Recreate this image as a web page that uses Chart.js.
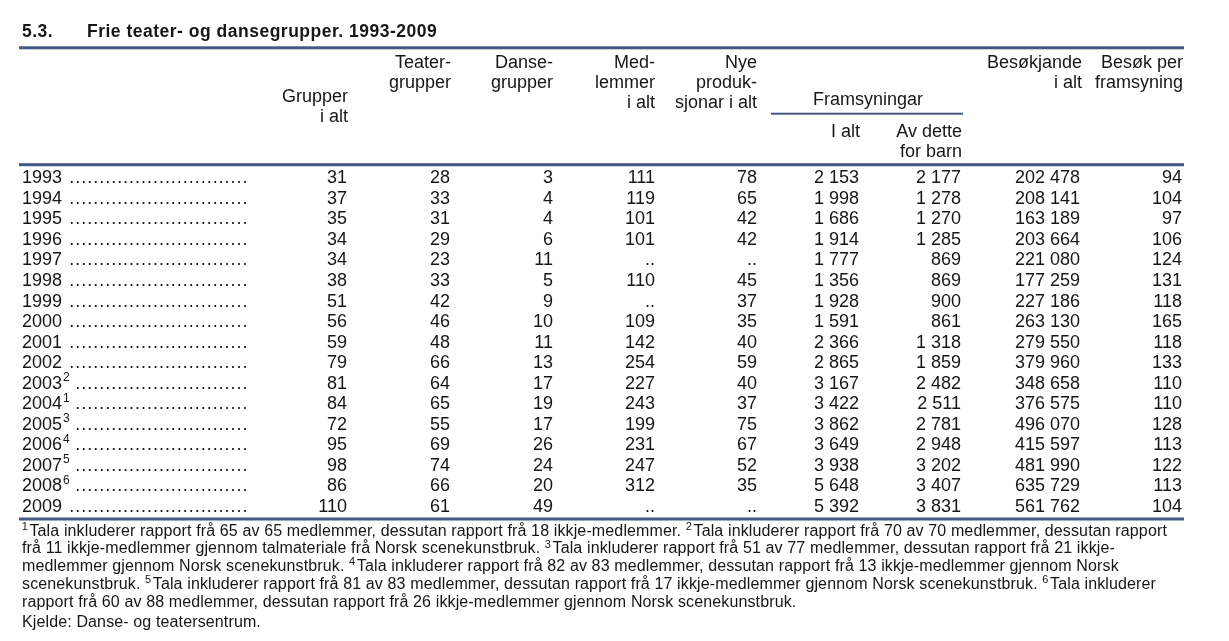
<!DOCTYPE html>
<html>
<head>
    <title>Frie teater- og dansegrupper. 1993-2009</title>
    <script src="https://cdn.jsdelivr.net/npm/chart.js"></script>
    <style>
        body { margin: 0; background: #fff; }
        #wrap { width: 1229px; height: 641px; }
    </style>
</head>
<body>

    <div id="wrap">
        <canvas id="tableChart" width="1229" height="641"></canvas>
    </div>

    <script>
        // Table data (null = "..", figure not available)
        var years = [1993, 1994, 1995, 1996, 1997, 1998, 1999, 2000, 2001, 2002, 2003, 2004, 2005, 2006, 2007, 2008, 2009];
        var yearNotes = [null, null, null, null, null, null, null, null, null, null, 2, 1, 3, 4, 5, 6, null];

        var grupperIAlt = [31, 37, 35, 34, 34, 38, 51, 56, 59, 79, 81, 84, 72, 95, 98, 86, 110];
        var teatergrupper = [28, 33, 31, 29, 23, 33, 42, 46, 48, 66, 64, 65, 55, 69, 74, 66, 61];
        var dansegrupper = [3, 4, 4, 6, 11, 5, 9, 10, 11, 13, 17, 19, 17, 26, 24, 20, 49];
        var medlemmer = [111, 119, 101, 101, null, 110, null, 109, 142, 254, 227, 243, 199, 231, 247, 312, null];
        var nyeProduksjonar = [78, 65, 42, 42, null, 45, 37, 35, 40, 59, 40, 37, 75, 67, 52, 35, null];
        var framsyningarIAlt = [2153, 1998, 1686, 1914, 1777, 1356, 1928, 1591, 2366, 2865, 3167, 3422, 3862, 3649, 3938, 5648, 5392];
        var framsyningarBarn = [2177, 1278, 1270, 1285, 869, 869, 900, 861, 1318, 1859, 2482, 2511, 2781, 2948, 3202, 3407, 3831];
        var besokjande = [202478, 208141, 163189, 203664, 221080, 177259, 227186, 263130, 279550, 379960, 348658, 376575, 496070, 415597, 481990, 635729, 561762];
        var besokPerFramsyning = [94, 104, 97, 106, 124, 131, 118, 165, 118, 133, 110, 110, 128, 113, 122, 113, 104];

        var columns = [grupperIAlt, teatergrupper, dansegrupper, medlemmer, nyeProduksjonar,
                       framsyningarIAlt, framsyningarBarn, besokjande, besokPerFramsyning];

        // Header texts, one entry per column
        var columnHeads = [
            ["Grupper", "i alt"],
            ["Teater-", "grupper"],
            ["Danse-", "grupper"],
            ["Med-", "lemmer", "i alt"],
            ["Nye", "produk-", "sjonar i alt"],
            ["I alt"],
            ["Av dette", "for barn"],
            ["Besøkjande", "i alt"],
            ["Besøk per", "framsyning"]
        ];
        var groupHead = "Framsyningar";

        var title = ["5.3.", "Frie teater- og dansegrupper. 1993-2009"];
        var footnotes = [
            "^1Tala inkluderer rapport frå 65 av 65 medlemmer, dessutan rapport frå 18 ikkje-medlemmer. ^2Tala inkluderer rapport frå 70 av 70 medlemmer, dessutan rapport",
            "frå 11 ikkje-medlemmer gjennom talmateriale frå Norsk scenekunstbruk. ^3Tala inkluderer rapport frå 51 av 77 medlemmer, dessutan rapport frå 21 ikkje-",
            "medlemmer gjennom Norsk scenekunstbruk. ^4Tala inkluderer rapport frå 82 av 83 medlemmer, dessutan rapport frå 13 ikkje-medlemmer gjennom Norsk",
            "scenekunstbruk. ^5Tala inkluderer rapport frå 81 av 83 medlemmer, dessutan rapport frå 17 ikkje-medlemmer gjennom Norsk scenekunstbruk. ^6Tala inkluderer",
            "rapport frå 60 av 88 medlemmer, dessutan rapport frå 26 ikkje-medlemmer gjennom Norsk scenekunstbruk."
        ];
        var source = "Kjelde: Danse- og teatersentrum.";

        // Layout (pixels on the x scale, which runs 0..1229)
        var FONT = '"Liberation Sans", Arial, sans-serif';
        var INK = "#161616";
        var RULE = "#425980";
        var colRight = [347, 450, 553, 655, 757, 859, 961, 1080, 1182];
        var headRight = [348, 451, 553, 655, 757, 860, 962, 1082, 1183];
        var headFirstBase = [101.7, 68.3, 68.3, 68.3, 68.3, 136.7, 136.7, 68.3, 68.3];

        function fmt(v) {
            if (v === null) return "..";
            return String(v).replace(/\B(?=(\d{3})+(?!\d))/g, " ");
        }

        // Text with ^n superscripts
        function drawRich(ctx, str, x, y, size) {
            var parts = str.split(/(\^\d)/);
            var cx = x;
            parts.forEach(function (p) {
                if (!p) return;
                if (p.charAt(0) === "^") {
                    ctx.font = Math.round(size * 0.68) + "px " + FONT;
                    ctx.fillText(p.slice(1), cx, y - size * 0.36);
                    cx += ctx.measureText(p.slice(1)).width + 1.5;
                } else {
                    ctx.font = size + "px " + FONT;
                    ctx.fillText(p, cx, y);
                    cx += ctx.measureText(p).width;
                }
            });
            return cx;
        }

        function rule(ctx, x1, x2, y, w) {
            ctx.fillStyle = RULE;
            ctx.fillRect(x1, y - w / 2, x2 - x1, w);
        }

        var tablePlugin = {
            id: "tableText",
            afterDatasetsDraw: function (chart) {
                var ctx = chart.ctx;
                var yScale = chart.scales.y;
                ctx.save();
                ctx.textBaseline = "alphabetic";

                // Title
                ctx.fillStyle = INK;
                ctx.textAlign = "left";
                ctx.font = "bold 17.5px " + FONT;
                ctx.letterSpacing = "0.5px";
                ctx.fillText(title[0], 22, 37);
                ctx.fillText(title[1], 87, 37);
                ctx.letterSpacing = "0px";

                // Rules
                rule(ctx, 19, 1184, 47.8, 3);
                rule(ctx, 19, 1184, 164.7, 3);
                rule(ctx, 19, 1184, 519, 3);
                rule(ctx, 771, 963, 113.7, 2);

                // Column heads
                ctx.fillStyle = INK;
                ctx.font = "18px " + FONT;
                ctx.textAlign = "right";
                columnHeads.forEach(function (lines, c) {
                    lines.forEach(function (t, k) {
                        ctx.fillText(t, headRight[c], headFirstBase[c] + k * 20);
                    });
                });
                ctx.textAlign = "center";
                ctx.fillText(groupHead, 868, 105);

                // Year labels with leader dots
                years.forEach(function (yr, i) {
                    var y = yScale.getPixelForValue(i) + 6.5;
                    ctx.textAlign = "left";
                    ctx.font = "18px " + FONT;
                    ctx.fillText(String(yr), 22, y);
                    var end = 22 + ctx.measureText(String(yr)).width;
                    if (yearNotes[i] !== null) {
                        ctx.font = "12px " + FONT;
                        ctx.fillText(String(yearNotes[i]), end + 1, y - 7.5);
                        end += ctx.measureText(String(yearNotes[i])).width + 1;
                    }
                    ctx.font = "18px " + FONT;
                    ctx.textAlign = "center";
                    for (var dx = 245; dx > end + 7; dx -= 5.97) {
                        ctx.fillText(".", dx, y);
                    }
                });

                // Cells, placed at each point of the datasets
                ctx.font = "18px " + FONT;
                ctx.textAlign = "right";
                chart.data.datasets.forEach(function (ds, c) {
                    var meta = chart.getDatasetMeta(c);
                    meta.data.forEach(function (pt, i) {
                        ctx.fillText(fmt(ds.values[i]), pt.x, pt.y + 6.5);
                    });
                });

                // Footnotes
                ctx.textAlign = "left";
                ctx.letterSpacing = "0.13px";
                footnotes.forEach(function (line, k) {
                    var x = line.charAt(0) === "^" ? 21.7 : 22;
                    drawRich(ctx, line, x, 535.7 + k * 17.7, 16);
                });
                ctx.font = "16px " + FONT;
                ctx.fillText(source, 22, 627);
                ctx.letterSpacing = "0px";

                ctx.restore();
            }
        };

        var datasets = columns.map(function (vals, c) {
            return {
                values: vals,
                data: vals.map(function (v, i) { return { x: colRight[c], y: i }; }),
                pointRadius: 0,
                pointHoverRadius: 0,
                showLine: false
            };
        });

        var chart = new Chart(document.getElementById("tableChart"), {
            type: "scatter",
            data: { datasets: datasets },
            options: {
                responsive: false,
                animation: false,
                devicePixelRatio: 1,
                events: [],
                layout: { padding: { left: 0, right: 0, top: 176.7, bottom: 135.5 } },
                plugins: { legend: { display: false }, tooltip: { enabled: false } },
                scales: {
                    x: { type: "linear", min: 0, max: 1229, display: false },
                    y: { type: "linear", min: 0, max: years.length - 1, reverse: true, display: false }
                }
            },
            plugins: [tablePlugin]
        });
    </script>

</body>
</html>
